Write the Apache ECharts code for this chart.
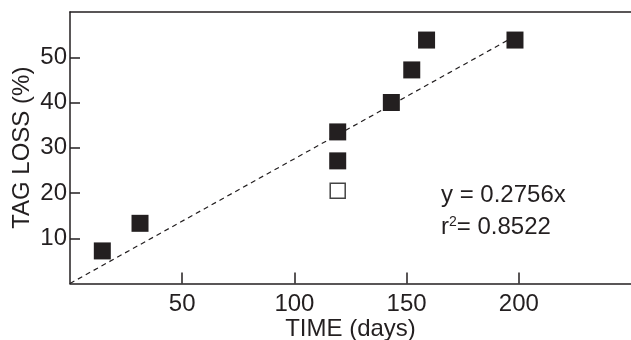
<!DOCTYPE html>
<html>
<head>
<meta charset="utf-8">
<script src="https://cdn.jsdelivr.net/npm/echarts@6/dist/echarts.min.js"></script>
<style>
  html, body {margin: 0; padding: 0; background: #fff;}
  #chart {width: 631px; height: 340px;}
</style>
</head>
<body>
<div id="chart"></div>
<script>
// tag loss vs time
const filledDays = [14.4, 31.2, 119.3, 119.3, 143.2, 152.3, 158.9, 198.3];
const filledLoss = [7.2, 13.3, 33.5, 27.1, 40.0, 47.2, 53.8, 53.8];
const openDays = [119.3];
const openLoss = [20.5];
const fitSlope = 0.2756;
const fitRange = [0, 198];
const xTicks = [50, 100, 150, 200];
const yTicks = [10, 20, 30, 40, 50];

const ink = '#231f20';
const font = 'Liberation Sans, Arial, sans-serif';
const fs = 24;

const chart = echarts.init(document.getElementById('chart'));

const pairs = (xs, ys) => xs.map((x, i) => [x, ys[i]]);

chart.setOption({
  animation: false,
  grid: {left: 70, right: 0, top: 12, bottom: 56.5, outerBoundsMode: 'none', containLabel: false},
  xAxis: [{
    type: 'value',
    min: 0, max: 250, interval: 50,
    name: 'TIME (days)',
    nameLocation: 'middle',
    nameGap: 34,
    nameMoveOverlap: false,
    nameTextStyle: {color: ink, fontSize: fs, fontFamily: font},
    axisLine: {lineStyle: {color: ink, width: 1.5}},
    axisTick: {inside: true, length: 11, customValues: xTicks, lineStyle: {color: ink, width: 1.5}},
    axisLabel: {color: ink, fontSize: fs, fontFamily: font, margin: 9, customValues: xTicks},
    splitLine: {show: false}
  }, {
    type: 'value',
    position: 'top',
    min: 0, max: 250,
    axisLine: {lineStyle: {color: ink, width: 1.5}},
    axisTick: {show: false},
    axisLabel: {show: false},
    splitLine: {show: false}
  }],
  yAxis: {
    type: 'value',
    min: 0, max: 60, interval: 10,
    name: 'TAG LOSS (%)',
    nameLocation: 'middle',
    nameGap: 36,
    nameMoveOverlap: false,
    nameTextStyle: {color: ink, fontSize: fs, fontFamily: font},
    axisLine: {lineStyle: {color: ink, width: 1.5}},
    axisTick: {inside: true, length: 10, customValues: yTicks, lineStyle: {color: ink, width: 1.5}},
    axisLabel: {color: ink, fontSize: fs, fontFamily: font, margin: 3, customValues: yTicks},
    splitLine: {show: false}
  },
  series: [{
    type: 'line',
    data: fitRange.map(x => [x, fitSlope * x]),
    symbol: 'none',
    lineStyle: {color: ink, width: 1.2, type: [5, 4]},
    z: 1
  }, {
    type: 'scatter',
    data: pairs(filledDays, filledLoss),
    symbol: 'rect',
    symbolSize: 17,
    itemStyle: {color: ink, opacity: 1},
    z: 3
  }, {
    type: 'scatter',
    data: pairs(openDays, openLoss),
    symbol: 'rect',
    symbolSize: 15,
    itemStyle: {color: '#fff', borderColor: '#444', borderWidth: 1.5, opacity: 1},
    z: 3
  }],
  graphic: [{
    type: 'text',
    left: 441, top: 183,
    style: {text: 'y = 0.2756x', fill: ink, font: fs + 'px ' + font}
  }, {
    type: 'text',
    left: 441, top: 215,
    style: {
      text: 'r{sup|2}= 0.8522',
      fill: ink,
      font: fs + 'px ' + font,
      rich: {sup: {fontSize: 14, fontFamily: font, fill: ink, verticalAlign: 'top', padding: [0, 0, 10, 0]}}
    }
  }]
});
</script>
</body>
</html>
